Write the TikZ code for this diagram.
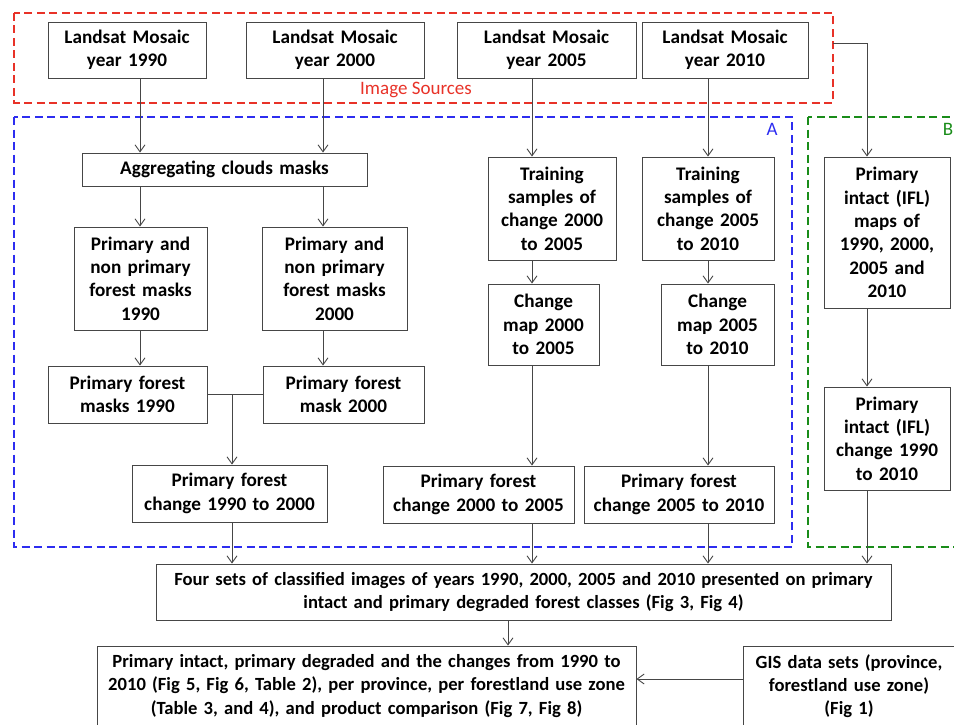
\documentclass[tikz,border=0pt]{standalone}
\usepackage{fontspec}
\setmainfont{Carlito}
\usetikzlibrary{positioning, arrows.meta}

\definecolor{boxline}{RGB}{70,70,70}
\definecolor{srcred}{RGB}{232,50,40}
\definecolor{partblue}{RGB}{45,45,240}
\definecolor{partgreen}{RGB}{25,140,25}

\tikzset{
  proc/.style 2 args={draw=boxline, line width=0.9pt, text width=#1, minimum height=#2,
    inner sep=0pt, align=center, font=\fontsize{19.2}{23.3}\selectfont\bfseries},
  longproc/.style 2 args={proc={#1}{#2}, font=\fontsize{18.6}{23.3}\selectfont\bfseries},
  groupframe/.style={draw=#1, line width=2.4pt, dash pattern=on 8pt off 4.5pt},
  flow/.style={draw=boxline, line width=0.9pt, ->},
}

\begin{document}
\begin{tikzpicture}[x=1pt, y=-1pt, >={Straight Barb[length=7pt,width=10pt]}]
    \clip (0,0) rectangle (954,725);

    % group frames
    \draw[groupframe=srcred] (14,13) rectangle (833,103);
    \draw[groupframe=partblue] (14,117) rectangle (792,547);
    \draw[groupframe=partgreen] (808,117) rectangle (980,547);
    \node[text=srcred, font=\fontsize{19}{22}\selectfont] (srclbl) at (416,90) {Image Sources};
    \node[text=partblue, font=\fontsize{19}{22}\selectfont] (albl) at (772,129) {A};
    \node[text=partgreen, font=\fontsize{19}{22}\selectfont] (blbl) at (948,129) {B};

    % column lines
    \coordinate (c90) at (140,0);
    \coordinate (c00) at (323,0);
    \coordinate (cj)  at (232,0);
    \coordinate (c05) at (532,0);
    \coordinate (c10) at (708,0);
    \coordinate (cifl) at (867,0);
    \coordinate (cres) at (508,0);
    \coordinate (srcR) at (833,43);
    \coordinate (gisT) at (0,679);

    % image sources
    \node[proc={158pt}{56pt}] (m90) at (127,50) {Landsat Mosaic\\year 1990};
    \node[proc={178pt}{56pt}] (m00) at (335,50) {Landsat Mosaic\\year 2000};
    \node[proc={179pt}{56pt}] (m05) at (546.5,50) {Landsat Mosaic\\year 2005};
    \node[proc={166pt}{56pt}] (m10) at (725,50) {Landsat Mosaic\\year 2010};

    % part A
    \node[proc={285pt}{33pt}] (agg) at (224.5,169.5) {Aggregating clouds masks};
    \node[proc={133pt}{103pt}] (pn90) at (140.5,278.5) {Primary and\\non primary\\forest masks\\1990};
    \node[proc={145pt}{103pt}] (pn00) at (334.5,278.5) {Primary and\\non primary\\forest masks\\2000};
    \node[proc={159pt}{57pt}] (pf90) at (127.5,394.5) {Primary forest\\masks 1990};
    \node[proc={161pt}{57pt}] (pf00) at (343.5,394.5) {Primary forest\\mask 2000};
    \node[proc={195pt}{57pt}] (ch9000) at (229.5,493.5) {Primary forest\\change 1990 to 2000};

    \node[proc={128pt}{103pt}] (tr05) at (552,208.5) {Training\\samples of\\change 2000\\to 2005};
    \node[proc={132pt}{103pt}] (tr10) at (708,208.5) {Training\\samples of\\change 2005\\to 2010};
    \node[proc={111pt}{81pt}] (cm05) at (543.5,324.5) {Change\\map 2000\\to 2005};
    \node[proc={113pt}{81pt}] (cm10) at (717.5,324.5) {Change\\map 2005\\to 2010};
    \node[proc={191pt}{57pt}] (ch0005) at (478.5,494.5) {Primary forest\\change 2000 to 2005};
    \node[proc={190pt}{57pt}] (ch0510) at (679,494.5) {Primary forest\\change 2005 to 2010};

    % part B
    \node[proc={126pt}{151pt}] (ifl) at (887,232.5) {Primary\\intact (IFL)\\maps of\\1990, 2000,\\2005 and\\2010};
    \node[proc={126pt}{103pt}] (iflch) at (887,438.5) {Primary\\intact (IFL)\\change 1990\\to 2010};

    % results
    \node[longproc={735pt}{56pt}] (four) at (523.5,592) {Four sets of classified images of years 1990, 2000, 2005 and 2010 presented on primary\\intact and primary degraded forest classes (Fig 3, Fig 4)};
    \node[longproc={539pt}{80pt}] (res) at (366.5,686) {Primary intact, primary degraded and the changes from 1990 to\\2010 (Fig 5, Fig 6, Table 2), per province, per forestland use zone\\(Table 3, and 4), and product comparison (Fig 7, Fig 8)};
    \node[longproc={212pt}{80pt}] (gis) at (849,686) {GIS data sets (province,\\forestland use zone)\\(Fig 1)};

    \path[every edge/.style={flow}]
        (c90 |- m90.south) edge (c90 |- agg.north)
        (c00 |- m00.south) edge (c00 |- agg.north)
        (c90 |- agg.south) edge (c90 |- pn90.north)
        (c00 |- agg.south) edge (c00 |- pn00.north)
        (c90 |- pn90.south) edge (c90 |- pf90.north)
        (c00 |- pn00.south) edge (c00 |- pf00.north)
        (cj |- pf90.east) edge (cj |- ch9000.north)
        (cj |- ch9000.south) edge (cj |- four.north)

        (c05 |- m05.south) edge (c05 |- tr05.north)
        (c05 |- tr05.south) edge (c05 |- cm05.north)
        (c05 |- cm05.south) edge (c05 |- ch0005.north)
        (c05 |- ch0005.south) edge (c05 |- four.north)

        (c10 |- m10.south) edge (c10 |- tr10.north)
        (c10 |- tr10.south) edge (c10 |- cm10.north)
        (c10 |- cm10.south) edge (c10 |- ch0510.north)
        (c10 |- ch0510.south) edge (c10 |- four.north)

        (cifl |- ifl.south) edge (cifl |- iflch.north)
        (cifl |- iflch.south) edge (cifl |- four.north)

        (cres |- four.south) edge (cres |- res.north)
        (gis.west |- gisT) edge (res.east |- gisT)
        ;
    \draw[draw=boxline, line width=0.9pt] (pf90.east) -- (pf00.west);
    \draw[flow] (srcR) -| (cifl |- ifl.north);
\end{tikzpicture}
\end{document}
